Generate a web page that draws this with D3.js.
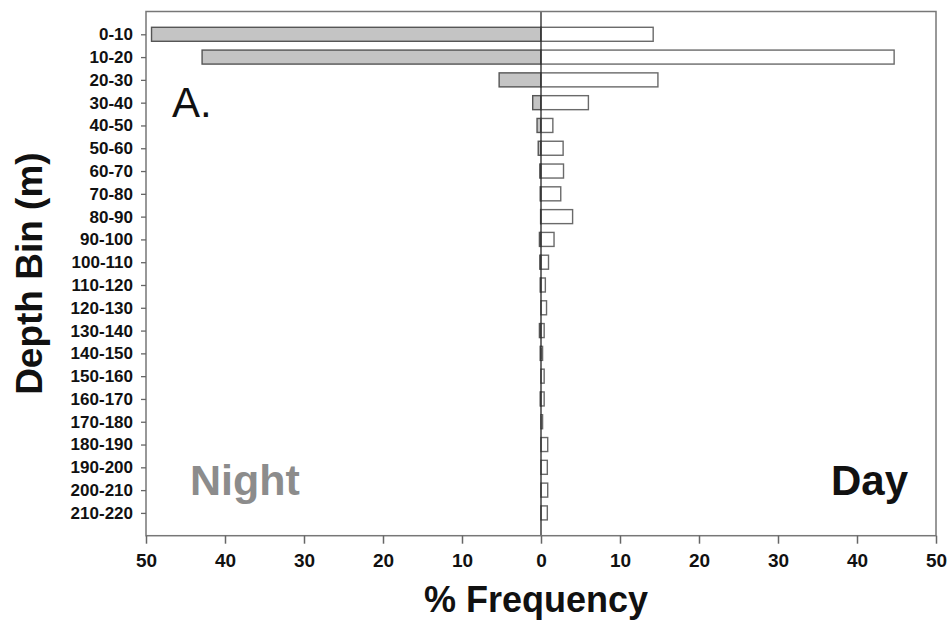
<!DOCTYPE html>
<meta charset="utf-8">
<head>
  <style>
    body { margin: 0; background: #fff; }
    text { font-family: "Liberation Sans", Arial, sans-serif; }
  </style>
</head>
<body>
  <svg id="viz" width="951" height="625"></svg>
  <script src="https://d3js.org/d3.v7.min.js"></script>
  <script>
    // depth bins and % frequency
    var bins = ["0-10", "10-20", "20-30", "30-40", "40-50", "50-60", "60-70", "70-80",
      "80-90", "90-100", "100-110", "110-120", "120-130", "130-140", "140-150",
      "150-160", "160-170", "170-180", "180-190", "190-200", "200-210", "210-220"];
    var night = [49.3, 42.9, 5.3, 1.05, 0.5, 0.35, 0.15, 0.1, 0.05, 0.2, 0.15, 0.1,
      0, 0.2, 0.1, 0, 0.1, 0, 0, 0, 0, 0];
    var day = [14.2, 44.7, 14.8, 6.0, 1.5, 2.8, 2.85, 2.5, 4.0, 1.65, 0.95, 0.55,
      0.7, 0.4, 0.2, 0.4, 0.4, 0.2, 0.85, 0.8, 0.85, 0.8];
    var xTicks = [-50, -40, -30, -20, -10, 0, 10, 20, 30, 40, 50];

    var margin = { top: 11.5, right: 15, bottom: 89.3, left: 146 };
    var width = 951 - margin.left - margin.right;
    var height = 625 - margin.top - margin.bottom;

    var svg = d3.select("#viz");
    var g = svg.append("g")
      .attr("transform", "translate(" + margin.left + "," + margin.top + ")");

    var x = d3.scaleLinear().domain([-50, 50]).range([0, width]);
    var y = d3.scalePoint().domain(bins).range([0, height]).padding(1);
    var barH = 14;

    // night bars (left, grey)
    g.append("g").selectAll("rect")
      .data(bins)
      .join("rect")
      .attr("x", (d, i) => x(-night[i]))
      .attr("y", d => y(d) - barH / 2)
      .attr("width", (d, i) => x(0) - x(-night[i]))
      .attr("height", barH)
      .attr("fill", "#c4c4c4")
      .attr("stroke", "#555")
      .attr("stroke-width", 1.4);

    // day bars (right, white)
    g.append("g").selectAll("rect")
      .data(bins)
      .join("rect")
      .attr("x", x(0))
      .attr("y", d => y(d) - barH / 2)
      .attr("width", (d, i) => x(day[i]) - x(0))
      .attr("height", barH)
      .attr("fill", "#fff")
      .attr("stroke", "#6a6a6a")
      .attr("stroke-width", 1.4);

    // zero line
    g.append("line")
      .attr("x1", x(0)).attr("x2", x(0))
      .attr("y1", 0).attr("y2", height)
      .attr("stroke", "#222")
      .attr("stroke-width", 1.3);

    // frame
    g.append("rect")
      .attr("width", width).attr("height", height)
      .attr("fill", "none")
      .attr("stroke", "#777")
      .attr("stroke-width", 1.5);

    var xAxis = g.append("g")
      .attr("transform", "translate(0," + height + ")")
      .call(d3.axisBottom(x).tickValues(xTicks).tickFormat(d => Math.abs(d))
        .tickSize(8).tickPadding(10));
    xAxis.select(".domain").remove();
    xAxis.selectAll(".tick line").attr("stroke", "#666").attr("stroke-width", 1.5);
    xAxis.selectAll("text")
      .attr("font-size", 19).attr("font-weight", "bold").attr("fill", "#111")
      .style("font-family", "'Liberation Sans', Arial, sans-serif");

    var yAxis = g.append("g")
      .call(d3.axisLeft(y).tickSize(5).tickPadding(8));
    yAxis.select(".domain").remove();
    yAxis.selectAll(".tick line").attr("stroke", "#666").attr("stroke-width", 1.3);
    yAxis.selectAll("text")
      .attr("font-size", 17).attr("font-weight", "bold").attr("fill", "#111")
      .style("font-family", "'Liberation Sans', Arial, sans-serif");

    // axis titles
    svg.append("text")
      .attr("transform", "translate(42," + (margin.top + height / 2) + ") rotate(-90)")
      .attr("text-anchor", "middle")
      .attr("font-size", 37).attr("font-weight", "bold").attr("fill", "#111")
      .text("Depth Bin (m)");

    svg.append("text")
      .attr("x", 536).attr("y", 612)
      .attr("text-anchor", "middle")
      .attr("font-size", 36).attr("font-weight", "bold").attr("fill", "#111")
      .text("% Frequency");

    // panel labels
    svg.append("text")
      .attr("x", 172).attr("y", 117)
      .attr("font-size", 42).attr("fill", "#111")
      .text("A.");

    svg.append("text")
      .attr("x", 190).attr("y", 495)
      .attr("font-size", 43).attr("font-weight", "bold").attr("fill", "#8c8c8c")
      .text("Night");

    svg.append("text")
      .attr("x", 908).attr("y", 495)
      .attr("text-anchor", "end")
      .attr("font-size", 42).attr("font-weight", "bold").attr("fill", "#111")
      .text("Day");
  </script>
</body>
</html>
